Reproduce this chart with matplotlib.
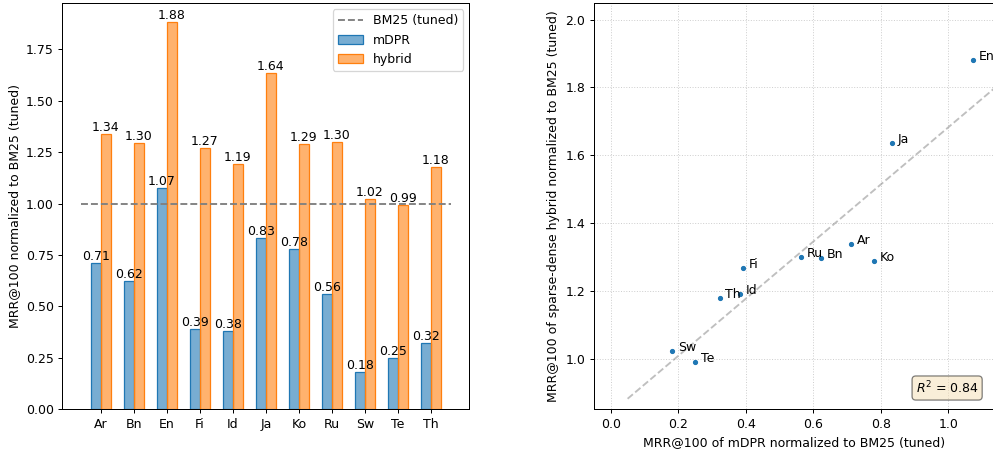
import matplotlib
matplotlib.use("Agg")
import matplotlib.pyplot as plt
import numpy as np
from matplotlib.colors import to_rgba

LANGS = ["Ar", "Bn", "En", "Fi", "Id", "Ja", "Ko", "Ru", "Sw", "Te", "Th"]
MDPR = [0.711, 0.624, 1.074, 0.391, 0.383, 0.834, 0.781, 0.563, 0.183, 0.251, 0.323]
HYBRID = [1.339, 1.296, 1.881, 1.268, 1.191, 1.636, 1.289, 1.299, 1.022, 0.991, 1.180]

DPI = 90
fig = plt.figure(figsize=(993 / DPI, 450 / DPI), dpi=DPI)

# ---------------------------------------------------------------- bars
ax = fig.add_axes([0.0629, 0.0904, 0.4097, 0.9029])
x = np.arange(len(LANGS))
w = 0.3
b1 = ax.bar(x - w / 2, MDPR, w, facecolor=to_rgba("C0", 0.6), edgecolor="C0",
            lw=1, label="mDPR")
b2 = ax.bar(x + w / 2, HYBRID, w, facecolor=to_rgba("C1", 0.6), edgecolor="C1",
            lw=1, label="hybrid")
ax.plot([-0.6, len(LANGS) - 0.4], [1, 1], "--", color="gray", lw=1.5,
        label="BM25 (tuned)", zorder=3)
ax.bar_label(b1, fmt="%.2f")
ax.bar_label(b2, fmt="%.2f")
ax.set_xticks(x)
ax.set_xticklabels(LANGS)
ax.set_ylabel("MRR@100 normalized to BM25 (tuned)")
handles, labels = ax.get_legend_handles_labels()
order = [labels.index(l) for l in ("BM25 (tuned)", "mDPR", "hybrid")]
ax.legend([handles[i] for i in order], [labels[i] for i in order], loc="upper right")

# ---------------------------------------------------------------- scatter
ax2 = fig.add_axes([0.5982, 0.0904, 0.4020, 0.9029])
xs = np.array(MDPR)
ys = np.array(HYBRID)
ax2.scatter(xs, ys, s=10, color="C0", zorder=3)
for lx, ly, lab in zip(xs, ys, LANGS):
    ax2.text(lx + 0.017, ly, lab)

slope, intercept = np.polyfit(xs, ys, 1)
r2 = np.corrcoef(xs, ys)[0, 1] ** 2
xl = np.array([0.05, 1.2])
ax2.plot(xl, slope * xl + intercept, "--", color="gray", alpha=0.5, lw=1.5)
ax2.text(0.963, 0.032, f"$R^2$ = {r2:.2f}", transform=ax2.transAxes, ha="right",
         va="bottom", bbox=dict(boxstyle="round", facecolor="wheat", alpha=0.5))

ax2.set_xlim(-0.0495, 1.133)
ax2.set_ylim(0.8506, 2.049)
ax2.set_xticks([0.0, 0.2, 0.4, 0.6, 0.8, 1.0])
ax2.set_yticks([1.0, 1.2, 1.4, 1.6, 1.8, 2.0])
ax2.grid(True, ls=":", alpha=0.6)
ax2.set_xlabel("MRR@100 of mDPR normalized to BM25 (tuned)")
ax2.set_ylabel("MRR@100 of sparse-dense hybrid normalized to BM25 (tuned)")

fig.savefig("out.png", dpi=DPI)
